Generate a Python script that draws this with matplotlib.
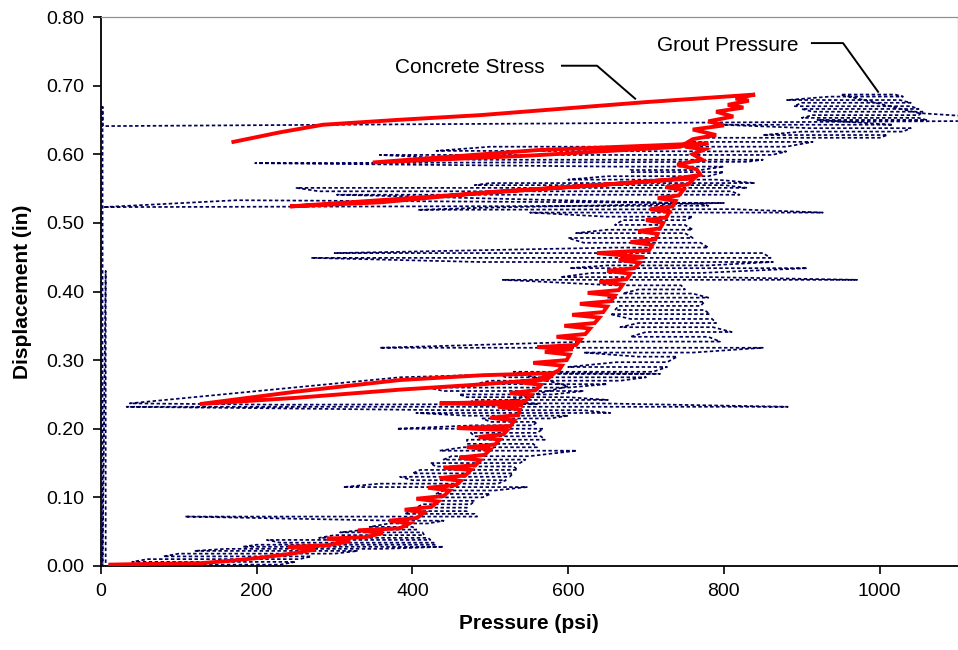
import matplotlib
matplotlib.use("Agg")
import matplotlib.pyplot as plt
import numpy as np

plt.rcParams['font.family'] = ['Liberation Sans', 'DejaVu Sans']

# ---------------- data ----------------
x_ticks = [0, 200, 400, 600, 800, 1000]
y_ticks = [0.0, 0.1, 0.2, 0.3, 0.4, 0.5, 0.6, 0.7, 0.8]

# Concrete Stress (psi, in) in time order
stress_psi = [12, 60, 127, 170, 204, 245, 275, 240, 290, 320, 290, 340, 362, 330,
              384, 396, 370, 406, 415, 390, 424, 433, 405, 440, 448, 420, 456, 462,
              435, 468, 475, 440, 481, 487, 460, 493, 500, 470, 506, 512, 485, 517,
              522, 457, 526, 531, 500, 536, 538, 510, 542, 435, 545, 552, 525, 558,
              565, 535, 573, 582,
              490, 384, 250, 127, 250, 384, 480, 560,
              588, 592, 555, 598, 602, 570, 606, 560, 610, 616, 585, 622, 628, 595,
              634, 640, 605, 645, 650, 615, 655, 660, 625, 665, 670, 640, 675, 680,
              650, 685, 692, 665, 698, 637, 704, 708, 680, 712, 715, 690, 718, 722,
              700, 726, 730, 705, 734, 738, 715, 742, 748, 725, 754, 762,
              600, 358, 243, 360, 500, 650, 730, 770,
              765, 740, 772, 760, 775, 750, 780,
              560, 349, 550, 744, 760, 790, 760, 800, 780, 812, 790, 825, 805, 832,
              815, 840,
              700, 487, 380, 285, 230, 170]
stress_disp = [0.002, 0.003, 0.004, 0.008, 0.012, 0.018, 0.024, 0.028, 0.030, 0.036,
               0.040, 0.042, 0.048, 0.052, 0.055, 0.062, 0.066, 0.070, 0.078, 0.082,
               0.086, 0.094, 0.098, 0.102, 0.110, 0.114, 0.118, 0.124, 0.128, 0.132,
               0.140, 0.143, 0.147, 0.154, 0.158, 0.162, 0.170, 0.173, 0.177, 0.184,
               0.188, 0.192, 0.198, 0.201, 0.204, 0.212, 0.216, 0.220, 0.228, 0.232,
               0.235, 0.237, 0.240, 0.249, 0.252, 0.256, 0.264, 0.268, 0.272, 0.281,
               0.278, 0.271, 0.254, 0.236, 0.245, 0.257, 0.264, 0.271,
               0.285, 0.292, 0.296, 0.300, 0.308, 0.312, 0.316, 0.319, 0.322, 0.330,
               0.334, 0.338, 0.346, 0.350, 0.354, 0.362, 0.366, 0.370, 0.378, 0.382,
               0.386, 0.394, 0.398, 0.402, 0.410, 0.414, 0.418, 0.426, 0.430, 0.434,
               0.442, 0.446, 0.450, 0.456, 0.460, 0.468, 0.472, 0.476, 0.484, 0.488,
               0.492, 0.500, 0.504, 0.508, 0.516, 0.520, 0.524, 0.532, 0.536, 0.540,
               0.548, 0.552, 0.556, 0.565,
               0.552, 0.533, 0.524, 0.530, 0.545, 0.556, 0.563, 0.570,
               0.578, 0.585, 0.592, 0.600, 0.607, 0.611, 0.616,
               0.606, 0.588, 0.598, 0.611, 0.622, 0.628, 0.636, 0.642, 0.648, 0.655,
               0.662, 0.668, 0.672, 0.678, 0.681, 0.687,
               0.676, 0.657, 0.650, 0.643, 0.632, 0.618]

# Grout Pressure (psi, in) in time order
grout_psi = [10, 230, 250, 40, 60, 255, 270, 80, 100, 300, 330, 120, 160, 360,
             440, 182, 200, 430, 427, 230, 213, 423, 420, 280, 300, 415, 413, 307,
             340, 405, 400, 345, 370, 420, 440, 380, 108, 483, 480, 390, 400, 470,
             470, 405, 413, 475, 480, 420, 425, 490, 500, 430, 440, 505, 547, 311,
             358, 510, 520, 400, 384, 525, 529, 400, 410, 535, 530, 430, 423, 538,
             545, 440, 450, 550, 611, 435, 465, 560, 555, 470, 470, 570, 565, 480,
             475, 560, 568, 380, 480, 555, 560, 500, 490, 577, 600, 470, 405, 654,
             620, 450, 33, 882, 640, 470, 480, 651, 600, 470, 460, 580, 620, 440,
             420, 600, 650, 480, 500, 667, 700, 520, 508, 718,
             560, 384, 37, 230, 560, 520, 600,
             530, 709, 727, 600, 662, 727, 740, 690, 620, 760, 850, 358, 628, 795,
             780, 680, 700, 810, 786, 667, 690, 790, 785, 680, 654, 782, 775, 660,
             665, 770, 775, 650, 650, 780, 760, 670, 690, 750, 745, 660, 516, 971,
             780, 590, 630, 770, 907, 602, 650, 780, 863, 487, 270, 860, 850, 300,
             660, 780, 770, 620, 600, 760, 750, 610, 650, 760, 750, 660, 670, 750,
             760, 650, 551, 927, 812, 407,
             487, 800, 790, 174, 3, 780, 770, 303, 820, 810, 280, 251, 830, 800,
             480, 500, 840, 790, 600, 650, 780, 800, 680, 680, 770, 800, 660,
             198, 830, 850, 480, 358, 862, 880, 431, 500, 880, 914, 752, 770, 1000,
             1010, 850, 900, 1030, 1040, 910, 795, 1017,
             920, 1060, 1050, 900, 914, 1050, 1056, 914, 900, 1050, 1040, 890, 900,
             1040, 1026, 881, 936, 1030, 1020, 950, 1050,
             1200, 2, 2, 2, 6, 6]
grout_disp = [0.002, 0.002, 0.006, 0.006, 0.010, 0.010, 0.014, 0.014, 0.018, 0.018,
              0.022, 0.022, 0.025, 0.025, 0.028, 0.028, 0.031, 0.031, 0.034, 0.034,
              0.038, 0.038, 0.041, 0.041, 0.045, 0.045, 0.049, 0.049, 0.053, 0.053,
              0.057, 0.057, 0.062, 0.062, 0.066, 0.066, 0.072, 0.072, 0.076, 0.076,
              0.080, 0.080, 0.085, 0.085, 0.090, 0.090, 0.095, 0.095, 0.100, 0.100,
              0.105, 0.105, 0.110, 0.110, 0.115, 0.115, 0.120, 0.120, 0.125, 0.125,
              0.130, 0.130, 0.135, 0.135, 0.140, 0.140, 0.145, 0.145, 0.150, 0.150,
              0.155, 0.155, 0.160, 0.160, 0.168, 0.168, 0.173, 0.173, 0.178, 0.178,
              0.184, 0.184, 0.189, 0.189, 0.194, 0.194, 0.200, 0.200, 0.205, 0.205,
              0.210, 0.210, 0.215, 0.215, 0.219, 0.219, 0.223, 0.223, 0.227, 0.227,
              0.232, 0.232, 0.237, 0.237, 0.242, 0.242, 0.246, 0.246, 0.250, 0.250,
              0.255, 0.255, 0.260, 0.260, 0.265, 0.265, 0.270, 0.270, 0.275, 0.275,
              0.280, 0.280,
              0.281, 0.275, 0.237, 0.235, 0.236, 0.240, 0.262,
              0.283, 0.283, 0.290, 0.290, 0.297, 0.297, 0.305, 0.305, 0.311, 0.311,
              0.318, 0.318, 0.327, 0.327, 0.334, 0.334, 0.341, 0.341, 0.348, 0.348,
              0.354, 0.354, 0.360, 0.360, 0.367, 0.367, 0.373, 0.373, 0.379, 0.379,
              0.385, 0.385, 0.391, 0.391, 0.397, 0.397, 0.403, 0.403, 0.409, 0.409,
              0.417, 0.417, 0.421, 0.421, 0.427, 0.427, 0.434, 0.434, 0.438, 0.438,
              0.443, 0.443, 0.449, 0.449, 0.456, 0.456, 0.464, 0.464, 0.471, 0.471,
              0.478, 0.478, 0.485, 0.485, 0.490, 0.490, 0.497, 0.497, 0.504, 0.504,
              0.509, 0.509, 0.515, 0.515, 0.520, 0.519,
              0.522, 0.529, 0.529, 0.533, 0.523, 0.525, 0.528, 0.541, 0.541, 0.546,
              0.546, 0.551, 0.551, 0.555, 0.555, 0.558, 0.558, 0.563, 0.563, 0.568,
              0.568, 0.574, 0.574, 0.577, 0.577, 0.582, 0.582,
              0.587, 0.589, 0.592, 0.592, 0.599, 0.599, 0.604, 0.605, 0.611, 0.611,
              0.618, 0.618, 0.624, 0.624, 0.628, 0.628, 0.633, 0.633, 0.638, 0.638,
              0.643, 0.643,
              0.650, 0.650, 0.653, 0.653, 0.657, 0.657, 0.662, 0.662, 0.666, 0.666,
              0.670, 0.670, 0.675, 0.675, 0.679, 0.679, 0.684, 0.684, 0.687, 0.687,
              0.660,
              0.649, 0.641, 0.669, 0.000, 0.430, 0.000]

# ---------------- figure ----------------
fig = plt.figure(figsize=(9.58, 6.50), dpi=100)
ax = fig.add_axes([101/958, 84/650, 856.5/958, 549/650])

ax.plot(grout_psi, grout_disp, color='#000058', lw=1.25,
        linestyle=(0, (2.0, 1.4)), zorder=2)
ax.plot(stress_psi, stress_disp, color='#ff0000', lw=2.8,
        solid_joinstyle='miter', zorder=3)

ax.set_xlim(0, 1100)
ax.set_ylim(0, 0.80)
ax.set_xticks(x_ticks)
ax.set_yticks(y_ticks)
ax.set_xticklabels([str(v) for v in x_ticks], fontsize=14)
ax.set_yticklabels([f"{v:.2f}" for v in y_ticks], fontsize=14)
ax.tick_params(direction='out', length=6, width=1.2, color='black', pad=6)

for s in ['left', 'bottom']:
    ax.spines[s].set_color('black')
    ax.spines[s].set_linewidth(1.3)
for s in ['top', 'right']:
    ax.spines[s].set_color('#909090')
    ax.spines[s].set_linewidth(0.9)

ax.set_xlabel('Pressure (psi)', fontsize=15, fontweight='bold', labelpad=10)
ax.set_ylabel('Displacement (in)', fontsize=15, fontweight='bold', labelpad=10)

# annotations with leader lines
ax.text(378, 0.726, 'Concrete Stress', fontsize=15, va='center', ha='left')
ax.plot([592, 637, 686], [0.729, 0.729, 0.681], color='black', lw=1.4,
        clip_on=False, zorder=4)
ax.text(714, 0.759, 'Grout Pressure', fontsize=15, va='center', ha='left')
ax.plot([913, 953, 998], [0.762, 0.762, 0.691], color='black', lw=1.4,
        clip_on=False, zorder=4)

fig.savefig('out.png', dpi=100)
